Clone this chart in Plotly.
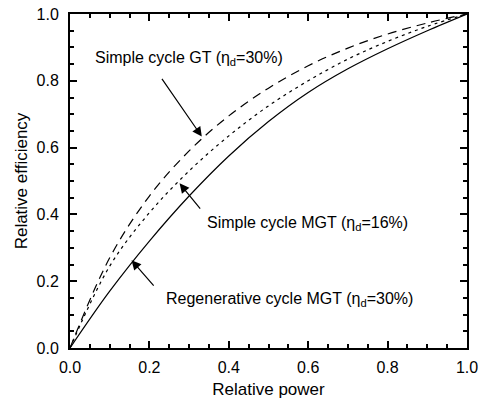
import plotly.graph_objects as go

x_vals = [0, 0.1, 0.2, 0.3, 0.4, 0.5, 0.6, 0.7, 0.8, 0.9, 1.0]
gt_simple = [0, 0.27, 0.455, 0.59, 0.695, 0.778, 0.845, 0.898, 0.94, 0.973, 1.0]
mgt_simple = [0, 0.245, 0.405, 0.53, 0.635, 0.725, 0.80, 0.865, 0.918, 0.963, 1.0]
mgt_regen = [0, 0.17, 0.32, 0.455, 0.575, 0.678, 0.765, 0.836, 0.896, 0.95, 1.0]

FONT = "Liberation Sans, Arial, sans-serif"

fig = go.Figure()
fig.add_trace(go.Scatter(x=x_vals, y=gt_simple, mode="lines", line=dict(color="black", width=1.2, dash="9px,6px", shape="spline"), showlegend=False))
fig.add_trace(go.Scatter(x=x_vals, y=mgt_simple, mode="lines", line=dict(color="black", width=1.2, dash="3px,4px", shape="spline"), showlegend=False))
fig.add_trace(go.Scatter(x=x_vals, y=mgt_regen, mode="lines", line=dict(color="black", width=1.2, shape="spline"), showlegend=False))

annots = [
    dict(text="Simple cycle GT (η<sub>d</sub>=30%)", tx=0.30, ty=0.868, ax=0.229, ay=0.81, hx=0.332, hy=0.633),
    dict(text="Simple cycle MGT (η<sub>d</sub>=16%)", tx=0.598, ty=0.374, ax=0.331, ay=0.413, hx=0.276, hy=0.493),
    dict(text="Regenerative cycle MGT (η<sub>d</sub>=30%)", tx=0.552, ty=0.144, ax=0.214, ay=0.182, hx=0.155, hy=0.263),
]
for a in annots:
    fig.add_annotation(x=a["tx"], y=a["ty"], text=a["text"], showarrow=False,
                       font=dict(family=FONT, size=16, color="black"), xref="x", yref="y")
    fig.add_annotation(x=a["hx"], y=a["hy"], ax=a["ax"], ay=a["ay"], axref="x", ayref="y",
                       xref="x", yref="y", text="", showarrow=True, arrowhead=2,
                       arrowsize=1.6, arrowwidth=1.2, arrowcolor="black")

def axis_cfg():
    return dict(range=[0, 1], tickmode="linear", tick0=0, dtick=0.2, tickformat=".1f",
                ticks="inside", ticklen=7, tickwidth=2, tickcolor="#000000",
                showline=True, linewidth=2, linecolor="black", mirror="ticks",
                showgrid=False, zeroline=False,
                tickfont=dict(family=FONT, size=16, color="black"),
                minor=dict(dtick=0.05, ticks="inside", ticklen=4, tickwidth=1.5, tickcolor="#000000"))

fig.update_layout(
    template="none",
    width=487, height=399,
    margin=dict(l=70, r=20, t=14, b=51),
    plot_bgcolor="white", paper_bgcolor="white",
    xaxis=dict(title=dict(text="Relative power", font=dict(family=FONT, size=17, color="black"), standoff=13), ticklabelstandoff=4, **axis_cfg()),
    yaxis=dict(title=dict(text="Relative efficiency", font=dict(family=FONT, size=17, color="black"), standoff=5), ticklabelstandoff=6, **axis_cfg()),
)

fig.write_html("out.html")
